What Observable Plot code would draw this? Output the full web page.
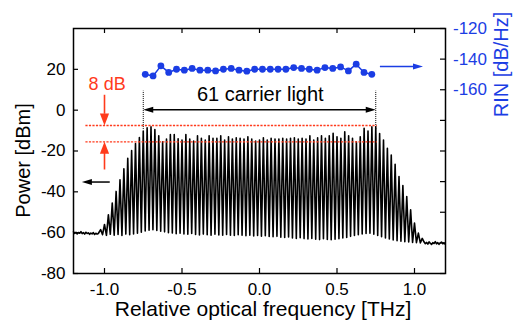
<!DOCTYPE html>
<html><head><meta charset="utf-8">
<script src="https://cdn.jsdelivr.net/npm/d3@7"></script>
<script src="https://cdn.jsdelivr.net/npm/@observablehq/plot@0.6"></script>
<style>html,body{margin:0;padding:0;background:#fff;}</style>
</head><body><div id="chart"></div>
<script>
// ---- data ----
const peakStart = -1.025;            // THz, first comb line
const peakStep = 0.025;              // THz, 25 GHz comb spacing
const peakPower = [
  -58.5, -56.0, -51.2, -45.5, -39.8, -34.1, -28.7, -23.6, -19.8, -16.3, -13.4,
  -10.2, -8.6, -8.1, -9.5, -12.5, -15.5, -14.1, -11.9, -11.9, -14.0, -14.6, -11.9, -14.1, -15.1, -12.5,
  -13.8, -14.6, -12.5, -13.8, -13.8, -12.5, -14.6, -13.0, -14.1, -13.5, -13.8, -14.1, -13.0, -14.1, -15.1,
  -14.6, -13.5, -14.6, -13.8, -14.1, -14.1, -13.8, -14.1, -13.8, -13.5, -14.1, -13.8, -14.1, -12.5, -14.6,
  -13.5, -12.5, -13.8, -12.5, -11.3, -13.0, -13.8, -10.6, -12.5, -13.8, -15.5, -13.0, -8.9, -10.2, -8.1, -8.1,
  -11.4, -14.6, -18.7, -22.0, -26.5, -32.5, -36.9, -42.3, -48.8, -55.3, -60.2, -62.8
];
const troughPower = [
  -61.0, -61.3, -60.8, -61.2, -60.9, -61.4, -60.7, -61.0, -60.6, -60.3, -59.8,
  -59.2, -58.8, -58.6, -58.9, -59.3, -59.6, -60.0, -60.2, -60.5, -60.3,
  -60.6, -60.8, -60.4, -60.9, -61.1, -60.7, -61.0, -61.2, -60.8, -61.1, -61.3, -60.9, -61.2, -61.4, -61.0, -61.3, -61.5, -61.2, -61.6, -61.4,
  -61.7, -61.5, -61.9, -62.0, -61.8, -62.2, -62.4, -62.1, -62.6, -62.8, -62.5, -62.9, -63.1, -62.8, -63.2, -63.4, -63.0, -63.3, -63.5, -63.2,
  -63.0, -62.6, -62.3, -61.8, -61.4, -61.0, -60.6, -60.4, -60.3, -60.8,
  -61.4, -62.0, -62.6, -63.1, -63.6, -63.9, -64.2, -64.4, -64.6, -64.8, -64.9, -65.0
];
const floorLeftFreq  = [-1.200,-1.192,-1.184,-1.176,-1.168,-1.160,-1.152,-1.144,-1.136,-1.128,-1.120,-1.112,-1.104,-1.096,-1.088,-1.080,-1.072,-1.064,-1.056,-1.048,-1.040];
const floorLeftPower = [-59.6,-60.4,-59.8,-60.6,-59.9,-60.3,-59.5,-60.5,-60.0,-60.7,-59.8,-60.4,-60.1,-60.8,-60.2,-60.6,-60.0,-60.9,-60.3,-60.7,-60.4];
const floorRightFreq  = [1.062,1.070,1.078,1.086,1.094,1.102,1.110,1.118,1.126,1.134,1.142,1.150,1.158,1.166,1.174,1.182,1.190,1.198];
const floorRightPower = [-64.6,-65.4,-64.8,-65.6,-64.5,-65.2,-65.8,-64.9,-65.3,-64.4,-65.5,-64.9,-65.7,-65.0,-64.6,-65.4,-65.1,-65.6];

const rinStart = -0.737, rinStep = 0.0504;   // THz
const rinValues = [-149.9,-151.0,-144.4,-148.7,-146.6,-147.2,-146.1,-147.2,-147.2,-147.7,-146.6,-146.1,-147.2,-147.9,-146.6,
                   -146.6,-146.6,-146.6,-146.6,-145.5,-146.1,-146.6,-147.2,-145.5,-146.1,-145.1,-147.7,-143.3,-148.7,-149.9];

const xTicks = [-1.0, -0.5, 0.0, 0.5, 1.0];
const powerTicks = [-80, -60, -40, -20, 0, 20];
const rinTicks = [-120, -140, -160, -180, -200, -220, -240, -260, -280];
const rinLabelTicks = [-120, -140, -160];

// ---- helpers ----
// right axis RIN [-280,-120] shares the frame with Power [-80,40]
const rinToPower = r => -80 + (r + 280) * 0.75;
const powerToRin = p => (p + 80) / 0.75 - 280;

const spectrum = [];
floorLeftFreq.forEach((f, i) => spectrum.push({f, p: floorLeftPower[i]}));
peakPower.forEach((p, i) => {
  const f = peakStart + i * peakStep;
  spectrum.push({f, p});
  if (i < troughPower.length) spectrum.push({f: f + peakStep / 2, p: troughPower[i]});
});
floorRightFreq.forEach((f, i) => spectrum.push({f, p: floorRightPower[i]}));

const rin = rinValues.map((r, i) => ({f: rinStart + i * rinStep, p: rinToPower(r)}));

const blue = "#1b3de4", red = "#ff3b1c";
const W = 514, H = 320, mL = 73, mR = 69, mT = 28, mB = 47;
const fw = W - mL - mR, fh = H - mT - mB, tk = 5;

const smallHead = {draw(c) { c.moveTo(0, 0); c.lineTo(-10, -3); c.lineTo(-10, 3); c.closePath(); }};
const redHead   = {draw(c) { c.moveTo(0, 0); c.lineTo(-12, -4.6); c.lineTo(-12, 4.6); c.closePath(); }};

const chart = Plot.plot({
  width: W, height: H,
  marginLeft: mL, marginRight: mR, marginTop: mT, marginBottom: mB,
  style: {fontFamily: "'Liberation Sans', Arial, Helvetica, sans-serif", fontSize: "17px", background: "#fff"},
  x: {domain: [-1.2, 1.2]},
  y: {domain: [-80, 40]},
  marks: [
    // spectrum
    Plot.line(spectrum, {x: "f", y: "p", stroke: "black", strokeWidth: 1.6}),
    // red 8 dB lines
    Plot.ruleY([-7.5, -15.5], {x1: -1.12, x2: 0.76, stroke: red, strokeWidth: 1.3, strokeDasharray: "2.2,1.3"}),
    Plot.ruleX([-1.0], {y1: 7.3, y2: -2, stroke: red, strokeWidth: 1.6}),
    Plot.dot([{f: -1.0, p: -7.5}], {x: "f", y: "p", symbol: redHead, fill: red, rotate: 90, r: 5}),
    Plot.ruleX([-1.0], {y1: -29.3, y2: -21, stroke: red, strokeWidth: 1.6}),
    Plot.dot([{f: -1.0, p: -15.5}], {x: "f", y: "p", symbol: redHead, fill: red, rotate: -90, r: 5}),
    Plot.text(["8 dB"], {x: -0.983, y: 10, lineAnchor: "bottom", fill: red, fontSize: 18}),
    // 61 carrier annotation
    Plot.ruleX([-0.75, 0.75], {y1: -9.5, y2: 9.3, stroke: "black", strokeWidth: 1, strokeDasharray: "1,1"}),
    Plot.ruleY([0.2], {x1: -0.70, x2: 0.70, stroke: "black", strokeWidth: 1.3}),
    Plot.dot([{f: -0.75, p: 0.2, a: 180}, {f: 0.75, p: 0.2, a: 0}], {x: "f", y: "p", rotate: "a", symbol: smallHead, fill: "black", r: 5}),
    Plot.text(["61 carrier light"], {x: 0.005, y: 4.3, lineAnchor: "bottom", fontSize: 20, fill: "black"}),
    // axis indicator arrows
    Plot.ruleY([-35.2], {x1: -0.963, x2: -1.09, stroke: "black", strokeWidth: 1.5}),
    Plot.dot([{f: -1.146, p: -35.2}], {x: "f", y: "p", symbol: smallHead, fill: "black", rotate: 180, r: 5}),
    Plot.ruleY([21.4], {x1: 0.78, x2: 1.0, stroke: blue, strokeWidth: 1.5}),
    Plot.dot([{f: 1.055, p: 21.4}], {x: "f", y: "p", symbol: smallHead, fill: blue, rotate: 0, r: 5}),
    // RIN
    Plot.line(rin, {x: "f", y: "p", stroke: blue, strokeWidth: 1.5}),
    Plot.dot(rin, {x: "f", y: "p", r: 3.4, fill: blue}),
    // inner ticks
    Plot.tickY(powerTicks, {y: d => d, insetRight: fw - tk, strokeWidth: 1.2}),
    Plot.tickY(rinTicks.map(rinToPower), {y: d => d, insetLeft: fw - tk, strokeWidth: 1.2}),
    Plot.tickX(xTicks, {x: d => d, insetTop: fh - tk, strokeWidth: 1.2}),
    Plot.tickX(xTicks, {x: d => d, insetBottom: fh - tk, strokeWidth: 1.2}),
    // axes labels
    Plot.axisX(xTicks, {anchor: "bottom", tickSize: 0, tickPadding: 9, fontSize: 17, tickFormat: d => d.toFixed(1), label: null}),
    Plot.axisY(powerTicks, {anchor: "left", tickSize: 0, tickPadding: 8, fontSize: 17, tickFormat: d => String(d), label: null}),
    Plot.axisY(rinLabelTicks.map(rinToPower), {anchor: "right", tickSize: 0, tickPadding: 7.5, fontSize: 17, color: blue, fill: blue,
      tickFormat: d => String(Math.round(powerToRin(d))), label: null}),
    Plot.text(["Relative optical frequency [THz]"], {frameAnchor: "bottom", dx: 3.5, dy: 42.5, textAnchor: "middle", lineAnchor: "bottom", fontSize: 21, fill: "black"}),
    Plot.text(["Power [dBm]"], {frameAnchor: "left", dx: -50, dy: 9.5, rotate: -90, textAnchor: "middle", lineAnchor: "middle", fontSize: 20, fill: "black"}),
    Plot.text(["RIN [dB/Hz]"], {frameAnchor: "top-right", dx: 56, dy: 36, rotate: -90, textAnchor: "middle", lineAnchor: "middle", fontSize: 20, fill: blue}),
    Plot.frame({stroke: "black", strokeWidth: 1.5})
  ]
});
document.getElementById("chart").appendChild(chart);
</script>
</body></html>
